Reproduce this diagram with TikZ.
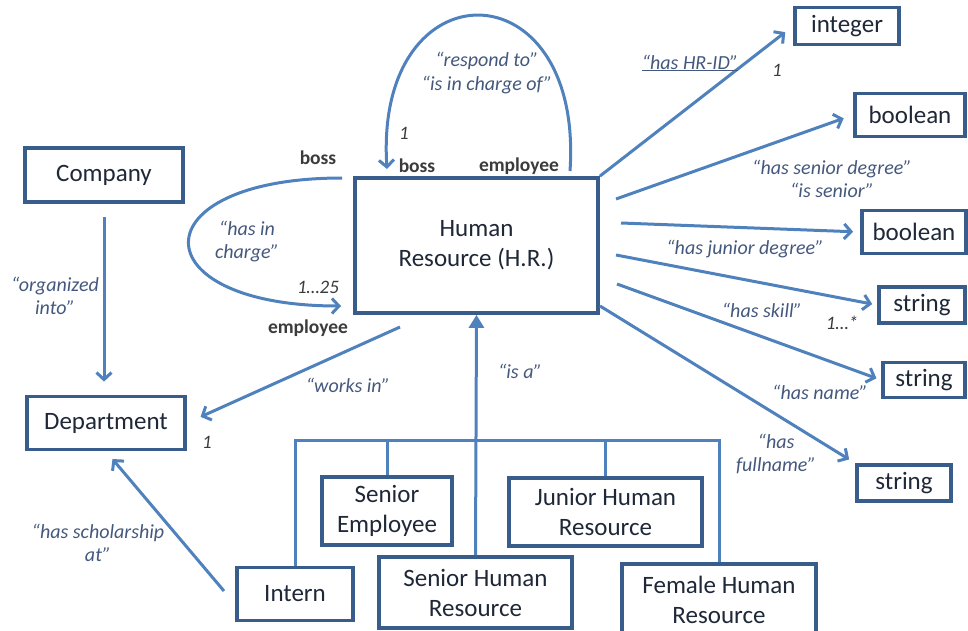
\documentclass[tikz,border=0pt]{standalone}
\usepackage{fontspec}
\setmainfont{Carlito}
\usetikzlibrary{arrows.meta}

\definecolor{arrowblue}{HTML}{4F81BD}
\definecolor{boxblue}{HTML}{385D8A}
\definecolor{boxtext}{HTML}{1F2838}
\definecolor{labeltext}{HTML}{44587E}
\definecolor{roletext}{HTML}{3B3B3B}

\begin{document}
\begin{tikzpicture}[x=1pt,y=-1pt,
  entity/.style={draw=boxblue, line width=3.8pt, fill=white, text=boxtext,
    font=\fontsize{25}{30}\selectfont, align=center, inner sep=0pt},
  rel/.style={draw=arrowblue, line width=3pt,
    -{Straight Barb[length=7pt,width=15pt,line width=3pt]}},
  treeline/.style={draw=arrowblue, line width=3pt},
  isa/.style={draw=arrowblue, line width=3pt, -{Triangle[length=13pt,width=15pt]}},
  lbl/.style={text=labeltext, font=\fontsize{20}{23}\selectfont\itshape, align=center, inner sep=0pt},
  role/.style={text=roletext, font=\fontsize{19.5}{22}\selectfont\bfseries, inner sep=0pt},
  mult/.style={text=roletext, font=\fontsize{19}{22}\selectfont\itshape, inner sep=0pt},
]
\useasboundingbox (0,0) rectangle (968,631);

% ---- entities ----
\node[entity, minimum width=158pt, minimum height=54pt] (company) at (104,175) {Company};
\node[entity, minimum width=158pt, minimum height=53pt] (department) at (106,423) {Department};
\node[entity, minimum width=243pt, minimum height=135pt] (hr) at (476.5,245.5) {Human\\Resource (H.R.)};

\node[entity, minimum width=104pt, minimum height=37pt] (integer) at (847,26) {integer};
\node[entity, minimum width=110pt, minimum height=43pt] (boolA) at (910,115) {boolean};
\node[entity, minimum width=104pt, minimum height=43pt] (boolB) at (914,232) {boolean};
\node[entity, minimum width=86pt, minimum height=36pt] (strA) at (922,305) {string};
\node[entity, minimum width=82pt, minimum height=35pt] (strB) at (924,380) {string};
\node[entity, minimum width=94pt, minimum height=36pt] (strC) at (904,483) {string};

\node[entity, minimum width=130pt, minimum height=68pt] (senEmp) at (387,511) {Senior\\Employee};
\node[entity, minimum width=193pt, minimum height=68pt] (junHR) at (605.5,512) {Junior Human\\Resource};
\node[entity, minimum width=116pt, minimum height=53pt] (intern) at (295,594) {Intern};
\node[entity, minimum width=193pt, minimum height=71pt] (senHR) at (475.5,592.5) {Senior Human\\Resource};
\node[entity, minimum width=194pt, minimum height=72pt] (femHR) at (719,600) {Female Human\\Resource};

% ---- connector end points ----
\coordinate (loopR) at (570,171);
\coordinate (loopL) at (387,169);
\coordinate (leftTop) at (342,178);
\coordinate (leftBot) at (341,306);
\coordinate (workStart) at (400,327);
\coordinate (scholStart) at (224,591);
\coordinate (srStart) at (616,199);
\coordinate (jrStart) at (621,223);
\coordinate (skStart) at (616,255);
\coordinate (nmStart) at (617,284);
\coordinate (fnStart) at (600,306);
\coordinate (bar) at (0,440);

% ---- is-a hierarchy ----
\draw[treeline] (intern.north) |- (femHR.north |- bar) -- (femHR.north);
\draw[treeline] (senEmp.north) -- (senEmp.north |- bar);
\draw[treeline] (junHR.north) -- (junHR.north |- bar);
\draw[isa] (senHR.north) -- (hr.south);
\node[lbl] (lIsa) at (520,371) {“is a”};

% ---- self relations ----
\draw[rel] (loopR) .. controls (584,-36) and (374,-36) .. (loopL);
\node[lbl] (lResp) at (487,61) {“respond to”};
\node[lbl] (lCharge) at (487,85) {“is in charge of”};
\node[mult] (m1top) at (404,133) {1};
\node[role] (bossTop) at (417,166) {boss};
\node[role] (empTop) at (519,166) {employee};

\draw[rel] (leftTop) .. controls (138,178) and (138,306) .. (leftBot);
\node[role] (bossLeft) at (318,158) {boss};
\node[lbl] (lHasIn) at (247,242) {“has in\\charge”};
\node[mult] (m125) at (318,287) {1…25};
\node[role] (empLeft) at (308,328) {employee};

% ---- company / department ----
\draw[rel, shorten <=13pt, shorten >=13pt] (company.south) -- (company.south |- department.north);
\node[lbl] (lOrg) at (55,296) {“organized\\into”};

\draw[rel, shorten >=15pt] (workStart) -- (department.east);
\node[lbl] (lWorks) at (348,385) {“works in”};
\node[mult] (m1dep) at (207,442) {1};

\draw[rel, shorten >=10pt] (scholStart) -- (department.south);
\node[lbl] (lSchol) at (98,543) {“has scholarship\\at”};

% ---- attributes ----
\draw[rel, shorten >=10pt] (hr.north east) -- (integer.west);
\node[lbl] (lHrid) at (690,63) {\underline{“has HR-ID”}};
\node[mult] (m1int) at (777,70) {1};

\draw[rel, shorten >=10pt] (srStart) -- (boolA.west);
\node[lbl] (lSenior) at (832,179) {“has senior degree”\\“is senior”};

\draw[rel, shorten >=7pt] (jrStart) -- (boolB.west);
\node[lbl] (lJunior) at (745,249) {“has junior degree”};

\draw[rel, shorten >=5pt] (skStart) -- (strA.west);
\node[lbl] (lSkill) at (762,310) {“has skill”};
\node[mult] (mSkill) at (842,323) {1…*};

\draw[rel, shorten >=5pt] (nmStart) -- (strB.west);
\node[lbl] (lName) at (820,392) {“has name”};

\draw[rel, shorten >=7pt] (fnStart) -- (strC.north west);
\node[lbl] (lFull) at (776,454) {“has\\fullname”};
\end{tikzpicture}
\end{document}
